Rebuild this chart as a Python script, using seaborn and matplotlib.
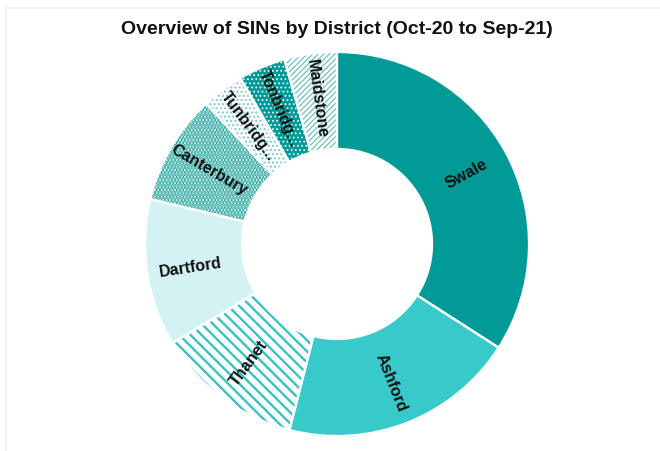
import matplotlib
matplotlib.use('Agg')
import matplotlib.pyplot as plt
import seaborn as sns
import numpy as np
from matplotlib.lines import Line2D

# SINs per district, Oct-20 to Sep-21
districts = ['Swale', 'Ashford', 'Thanet', 'Dartford', 'Canterbury',
             'Tunbridge Wells', 'Tonbridge', 'Maidstone']
labels = ['Swale', 'Ashford', 'Thanet', 'Dartford', 'Canterbury',
          'Tunbridg...', 'Tonbridg...', 'Maidstone']
sins = [77, 45, 28, 28, 21, 8, 9, 10]

# fill styles per slice
face_colors = ['#029A96', '#38CACB', '#FFFFFF', '#D4F1F3',
               '#FFFFFF', '#FFFFFF', '#029A96', '#FFFFFF']
hatch_colors = [None, None, '#38C2C2', None, '#169E97', '#7CCBC6', '#E8F8F7', '#5DBDB8']
hatches = [None, None, '\\\\\\', None, '.....', '....', '....', '//////']
hatch_widths = [1, 1, 1.7, 1, 2.0, 1.0, 0.8, 0.8]

sns.set_theme(style='white')
plt.rcParams['font.family'] = ['Liberation Sans', 'DejaVu Sans']

fig = plt.figure(figsize=(6.6, 4.52), dpi=100)
fig.patch.set_facecolor('white')

# faint frame lines at top/left like the source screenshot
fig.add_artist(Line2D([6/660, 1], [1 - 9/452, 1 - 9/452], color='#EDEDED', lw=1.2))
fig.add_artist(Line2D([6/660, 6/660], [0, 1 - 9/452], color='#EDEDED', lw=1.2))

ax = fig.add_axes([145/660, 15/452, 384/660, 384/452])

ring = 0.505
wedges, _ = ax.pie(sins, startangle=90, counterclock=False,
                   colors=face_colors, radius=1,
                   wedgeprops=dict(width=ring, linewidth=0))

for w, hc, h, hw in zip(wedges, hatch_colors, hatches, hatch_widths):
    if h is None:
        continue
    w.set_edgecolor(hc)
    w.set_linewidth(0)
    w.set_hatch(h)
    if hasattr(w, 'set_hatch_linewidth'):
        w.set_hatch_linewidth(hw)

# white separators on top
ax.pie(sins, startangle=90, counterclock=False, radius=1,
       wedgeprops=dict(width=ring, fill=False, edgecolor='white', linewidth=1.6))

# radial labels in the ring
r_lab = 0.77
for w, lab in zip(wedges, labels):
    mid = (w.theta1 + w.theta2) / 2
    x = r_lab * np.cos(np.deg2rad(mid))
    y = r_lab * np.sin(np.deg2rad(mid))
    rot = mid % 360
    if 90 < rot < 270:
        rot -= 180
    elif rot >= 270:
        rot -= 360
    ax.text(x, y, lab, rotation=rot, rotation_mode='anchor',
            ha='center', va='center', fontsize=11.5, fontweight='bold',
            color='#111111')

ax.set_xlim(-1, 1)
ax.set_ylim(-1, 1)
ax.set_aspect('equal')
ax.axis('off')

fig.text(337/660, 1 - 30/452, 'Overview of SINs by District (Oct-20 to Sep-21)',
         ha='center', va='center', fontsize=14, fontweight='bold', color='#111111')

fig.savefig('out.png', dpi=100, facecolor='white')
